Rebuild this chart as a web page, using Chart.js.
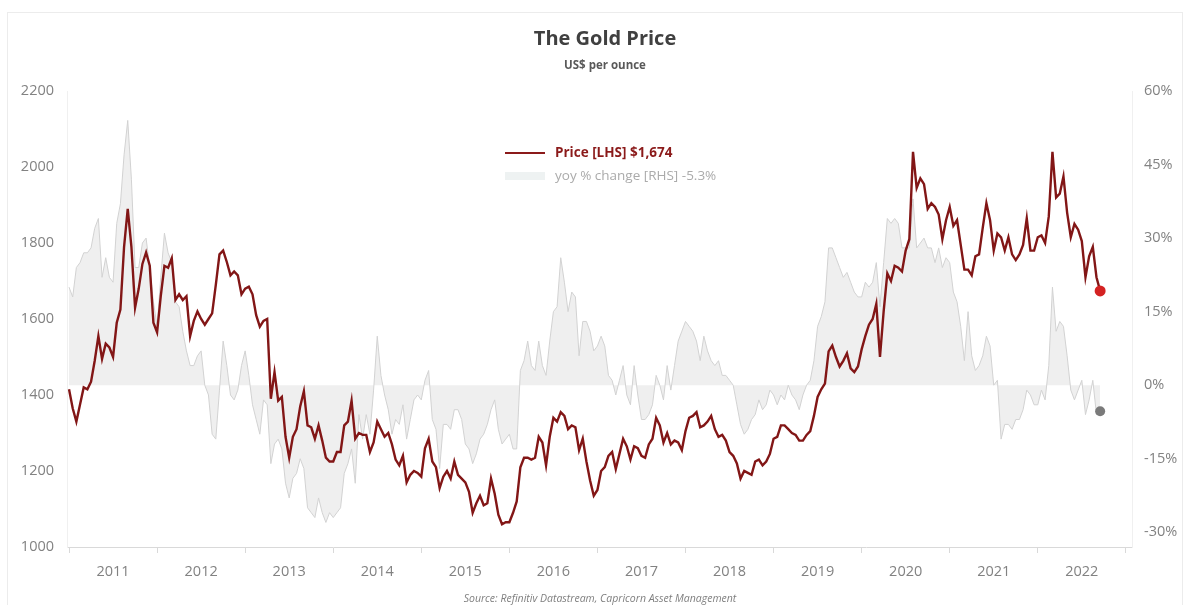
<!DOCTYPE html>
<html lang="en">
<head>
  <meta charset="UTF-8">
  <title>The Gold Price</title>
  <style>
    body {
      margin: 0;
      background: #ffffff;
      font-family: "Open Sans", Arial, sans-serif;
    }
    .wrap {
      position: relative;
      width: 1189px;
      height: 605px;
      overflow: hidden;
    }
    .frame {
      position: absolute;
      left: 7px;
      top: 12px;
      width: 1174px;
      height: 620px;
      border: 1px solid #ececec;
      pointer-events: none;
    }
    .title {
      position: absolute;
      left: 505px;
      width: 200px;
      top: 24px;
      text-align: center;
      font-weight: bold;
      font-size: 20px;
      color: #404040;
    }
    .subtitle {
      position: absolute;
      left: 505px;
      width: 200px;
      top: 57px;
      text-align: center;
      font-weight: bold;
      font-size: 11.5px;
      color: #595959;
    }
    .legend {
      position: absolute;
      left: 505px;
      top: 141px;
      font-size: 13.5px;
      line-height: 23px;
    }
    .legend .row { display: flex; align-items: center; }
    .legend .key { width: 40px; margin-right: 10px; }
    .legend .price { color: #8b1a1a; font-weight: bold; }
    .legend .yoy { color: #ababab; }
    .source {
      position: absolute;
      left: 300px;
      width: 600px;
      top: 591px;
      text-align: center;
      font-style: italic;
      font-size: 10.5px;
      color: #7f7f7f;
    }
  </style>
</head>
<body>
  <div class="wrap">
    <canvas id="gold-chart" width="1189" height="605"></canvas>
    <div class="frame"></div>
    <div class="title">The Gold Price</div>
    <div class="subtitle">US$ per ounce</div>
    <div class="legend">
      <div class="row"><div class="key" style="height:2px;background:#8b1a1a"></div><span class="price" id="price-label"></span></div>
      <div class="row"><div class="key" style="height:8px;background:#eef2f2"></div><span class="yoy" id="yoy-label"></span></div>
    </div>
    <div class="source">Source: Refinitiv Datastream, Capricorn Asset Management</div>
  </div>

  <script src="https://cdn.jsdelivr.net/npm/chart.js"></script>
  <script>
    // semi-monthly samples (1st and 15th), Jan 2011 .. mid Sep 2022
    const startYear = 2011;
    const perYear = 24;

    const yearLabels = ['2011', '2012', '2013', '2014', '2015', '2016', '2017', '2018', '2019', '2020', '2021', '2022'];
    const lhsTicks = [1000, 1200, 1400, 1600, 1800, 2000, 2200];
    const rhsTicks = [-30, -15, 0, 15, 30, 45, 60];

    // gold price, US$ per ounce
    const price = [
      1415, 1365, 1330, 1375, 1420, 1415, 1435, 1490, 1555, 1495, 1535, 1525, 1500, 1590, 1625, 1790, 1890, 1790, 1630, 1680, 1745, 1775, 1740, 1590,
      1565, 1660, 1740, 1735, 1760, 1650, 1665, 1650, 1660, 1555, 1595, 1620, 1600, 1585, 1600, 1615, 1690, 1770, 1780, 1750, 1715, 1725, 1715, 1665,
      1680, 1685, 1665, 1610, 1580, 1595, 1600, 1390, 1460, 1385, 1395, 1290, 1235, 1290, 1310, 1370, 1410, 1320, 1315, 1285, 1320, 1280, 1235, 1225,
      1225, 1250, 1250, 1320, 1330, 1385, 1285, 1300, 1295, 1295, 1250, 1275, 1330, 1310, 1290, 1300, 1270, 1230, 1215, 1240, 1170, 1190, 1200, 1195,
      1185, 1260, 1285, 1225, 1210, 1155, 1185, 1200, 1180, 1225, 1190, 1180, 1170, 1145, 1090, 1115, 1135, 1110, 1115, 1180, 1140, 1085, 1060, 1065,
      1065, 1090, 1120, 1210, 1235, 1235, 1230, 1235, 1290, 1275, 1215, 1290, 1340, 1330, 1355, 1345, 1310, 1320, 1315, 1255, 1285, 1225, 1175, 1135,
      1150, 1200, 1210, 1240, 1250, 1205, 1245, 1285, 1265, 1230, 1265, 1260, 1240, 1235, 1270, 1285, 1340, 1320, 1275, 1300, 1270, 1280, 1275, 1255,
      1305, 1340, 1345, 1355, 1315, 1320, 1330, 1345, 1310, 1290, 1295, 1280, 1250, 1240, 1220, 1180, 1200, 1195, 1190, 1225, 1230, 1215, 1225, 1245,
      1285, 1290, 1320, 1320, 1310, 1300, 1295, 1280, 1280, 1295, 1305, 1345, 1395, 1415, 1430, 1515, 1530, 1500, 1475, 1490, 1510, 1470, 1460, 1475,
      1520, 1555, 1585, 1600, 1640, 1500, 1620, 1720, 1700, 1740, 1735, 1725, 1780, 1810, 2040, 1945, 1970, 1955, 1890, 1905, 1895, 1875, 1810, 1860,
      1895, 1845, 1860, 1795, 1730, 1730, 1715, 1765, 1770, 1840, 1905, 1860, 1780, 1825, 1815, 1780, 1815, 1770, 1755, 1770, 1795, 1865, 1780, 1780,
      1815, 1820, 1800, 1870, 2040, 1920, 1930, 1975, 1880, 1815, 1850, 1835, 1805, 1710, 1765, 1790, 1710, 1674
    ];

    // year-on-year % change
    const yoy = [
      20, 18, 24, 25, 27, 27, 28, 32, 34, 22, 26, 22, 21, 33, 37, 47, 54, 42, 24, 24, 29, 30, 24, 17,
      12, 22, 31, 27, 25, 17, 16, 11, 7, 4, 4, 6, 7, 0, -2, -10, -11, -1, 9, 4, -2, -3, -1, 4,
      7, 2, -4, -7, -10, -3, -4, -16, -12, -11, -13, -20, -23, -19, -18, -15, -17, -25, -26, -27, -23, -26, -28, -26,
      -27, -26, -25, -18, -16, -13, -20, -6, -11, -6, -10, -1, 10, 2, -2, -5, -10, -7, -8, -4, -11, -7, -3, -2,
      -3, 1, 3, -7, -9, -17, -8, -8, -9, -5, -5, -7, -12, -13, -16, -14, -11, -10, -8, -5, -3, -9, -12, -11,
      -10, -13, -13, 3, 5, 9, 4, 3, 9, 4, 2, 9, 15, 16, 26, 21, 15, 19, 18, 6, 13, 13, 11, 7,
      8, 10, 8, 2, 1, -2, 1, 4, -2, -4, 4, -2, -7, -7, -6, -4, 2, 0, -3, 4, -1, 4, 9, 11,
      13, 12, 11, 9, 5, 10, 7, 5, 4, 5, 2, 2, 1, 0, -4, -8, -10, -9, -7, -6, -3, -5, -4, -1,
      -2, -4, -2, -3, 0, -2, -3, -5, -2, 0, 1, 5, 12, 14, 17, 28, 28, 26, 24, 22, 23, 21, 19, 18,
      18, 21, 20, 21, 25, 16, 25, 34, 33, 34, 33, 28, 28, 28, 38, 28, 29, 30, 28, 28, 25, 28, 24, 26,
      25, 19, 17, 12, 5, 15, 6, 3, 4, 6, 10, 8, 0, 1, -11, -8, -8, -9, -7, -7, -5, -1, -2, -4,
      -4, -1, -3, 4, 20, 11, 13, 12, 6, -1, -3, -1, 1, -6, -3, 1, -6, -5.3
    ];

    const toPoints = arr => arr.map((v, i) => ({ x: startYear + i / perYear, y: v }));
    const lastPrice = price[price.length - 1];
    const lastYoy = yoy[yoy.length - 1];

    document.getElementById('price-label').textContent =
      'Price [LHS] $' + lastPrice.toLocaleString('en-US');
    document.getElementById('yoy-label').textContent =
      'yoy % change [RHS] ' + lastYoy.toFixed(1) + '%';

    // year boundaries get a tick mark, mid-years carry the label
    const xTicks = [];
    for (let y = startYear; y <= startYear + yearLabels.length; y++) {
      xTicks.push(y);
      if (y < startYear + yearLabels.length) xTicks.push(y + 0.5);
    }

    const tickFont = { family: "'Open Sans', sans-serif", size: 14.5 };
    const tickColor = '#828282';

    Chart.defaults.font.family = "'Open Sans', sans-serif";

    new Chart(document.getElementById('gold-chart'), {
      type: 'line',
      data: {
        datasets: [
          {
            label: 'Price [LHS]',
            data: toPoints(price),
            yAxisID: 'y',
            borderColor: '#821616',
            borderWidth: 2.4,
            tension: 0,
            fill: false,
            order: 0,
            pointRadius: ctx => ctx.dataIndex === price.length - 1 ? 5.5 : 0,
            pointBackgroundColor: '#d42222',
            pointBorderWidth: 0
          },
          {
            label: 'yoy % change [RHS]',
            data: toPoints(yoy),
            yAxisID: 'y2',
            borderColor: '#d2d2d2',
            borderWidth: 1,
            backgroundColor: '#efefef',
            tension: 0,
            fill: 'origin',
            order: 1,
            pointRadius: ctx => ctx.dataIndex === yoy.length - 1 ? 5 : 0,
            pointBackgroundColor: '#7a7a7a',
            pointBorderWidth: 0
          }
        ]
      },
      options: {
        responsive: false,
        animation: false,
        devicePixelRatio: 1,
        layout: { padding: { top: 91, left: 0, right: 0, bottom: 0 } },
        plugins: {
          legend: { display: false },
          tooltip: { enabled: false }
        },
        scales: {
          x: {
            type: 'linear',
            min: 2010.977,
            max: 2023.07,
            afterBuildTicks: axis => { axis.ticks = xTicks.map(v => ({ value: v })); },
            afterFit: scale => { scale.height = 58; },
            ticks: {
              autoSkip: false,
              maxRotation: 0,
              padding: 10,
              color: tickColor,
              font: tickFont,
              callback: v => (v % 1 === 0.5 ? yearLabels[Math.floor(v) - startYear] : '')
            },
            grid: {
              drawOnChartArea: false,
              drawTicks: true,
              tickLength: 6,
              tickColor: ctx => (ctx.tick && ctx.tick.value % 1 === 0 ? '#d9d9d9' : 'rgba(0,0,0,0)')
            },
            border: { color: '#d9d9d9', width: 1 }
          },
          y: {
            position: 'left',
            min: 1000,
            max: 2200,
            afterBuildTicks: axis => { axis.ticks = lhsTicks.map(v => ({ value: v })); },
            afterFit: scale => { scale.width = 67; },
            ticks: { padding: 13, color: tickColor, font: tickFont, callback: v => String(v) },
            grid: { display: false, drawTicks: false },
            border: { color: '#f0f0f0', width: 1 }
          },
          y2: {
            position: 'right',
            min: -33,
            max: 60,
            afterBuildTicks: axis => { axis.ticks = rhsTicks.map(v => ({ value: v })); },
            afterFit: scale => { scale.width = 57; },
            ticks: { padding: 12, color: tickColor, font: tickFont, callback: v => v + '%' },
            grid: { display: false, drawTicks: false },
            border: { color: '#f0f0f0', width: 1 }
          }
        }
      }
    });
  </script>
</body>
</html>
